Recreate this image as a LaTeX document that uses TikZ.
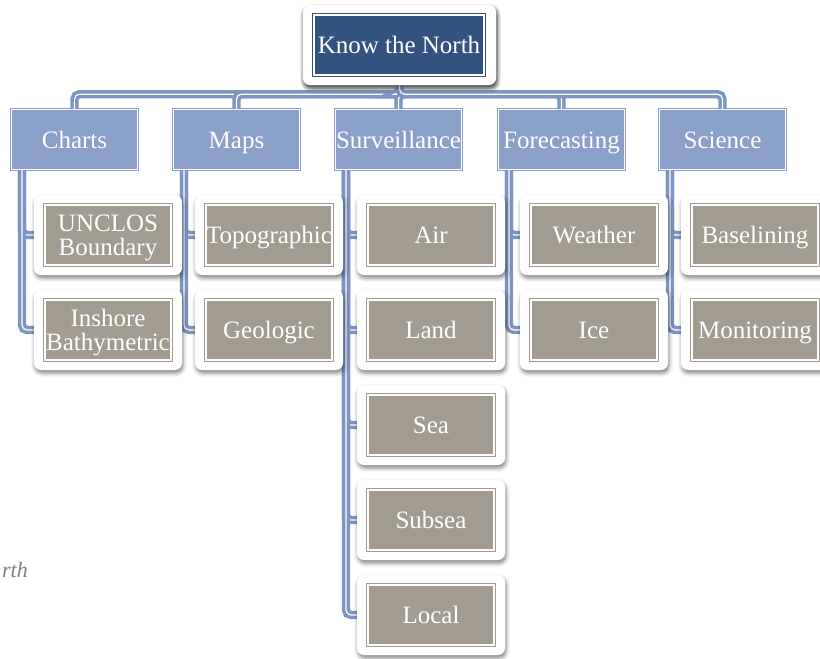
\documentclass[tikz,border=0pt]{standalone}
\usepackage{fontspec}
\setmainfont{Liberation Serif}
\usetikzlibrary{shadows.blur}
\definecolor{topblue}{HTML}{34527F}
\definecolor{lvlblue}{HTML}{8AA0C9}
\definecolor{leafgray}{HTML}{A29C90}
\definecolor{connblue}{HTML}{7D95C3}
\definecolor{notegray}{HTML}{7F7F7F}
\begin{document}
\begin{tikzpicture}[x=1pt,y=-1pt,
  card/.style={rectangle, rounded corners=7pt, fill=white,
    blur shadow={shadow xshift=1pt, shadow yshift=-3pt, shadow blur radius=4pt, shadow opacity=50},
    minimum width=148pt, minimum height=80pt, inner sep=0pt},
  topcard/.style={card, minimum width=193pt, minimum height=80pt},
  topbox/.style={rectangle, fill=topblue, draw=topblue, double=white, double distance=1.6pt,
    line width=1.4pt, minimum width=170pt, minimum height=60pt, inner sep=0pt,
    text height=16pt, text depth=0pt,
    text=white, font=\fontsize{25}{25}\selectfont},
  lvl/.style={rectangle, fill=lvlblue, draw=lvlblue, double=white, double distance=1.2pt,
    line width=1pt, minimum width=126pt, minimum height=60pt, inner sep=0pt,
    text height=17pt, text depth=0pt,
    text=white, font=\fontsize{25}{25}\selectfont},
  leafbase/.style={rectangle, fill=leafgray, draw=leafgray, double=white, double distance=1.4pt,
    line width=1.3pt, minimum width=126pt, minimum height=60pt, inner sep=0pt,
    text width=126pt, align=center, text=white, font=\fontsize{25}{24}\selectfont},
  leaf/.style={leafbase, text height=16pt, text depth=0pt},
  leaftwo/.style={leafbase, text height=16pt, text depth=24pt},
  conn/.style={draw=connblue, line width=3.6pt, double=white, double distance=1.2pt, rounded corners=5pt},
]
\useasboundingbox (0,0) rectangle (820,659);

% top card (shadow) first
\node[topcard] (topc) at (399.5,45) {};
% level 1
\node[lvl] (charts) at (74.5,139.5) {Charts};
\node[lvl] (maps) at (236.5,139.5) {Maps};
\node[lvl] (surv) at (398.5,139.5) {Surveillance};
\node[lvl] (fore) at (561.5,139.5) {Forecasting};
\node[lvl] (sci) at (722.5,139.5) {Science};

% leaf positions
\foreach \n/\x/\y in {c1/108/235, c2/108/330, m1/269/235, m2/269/330,
  s1/431/235, s2/431/330, s3/431/425, s4/431/520, s5/431/615,
  f1/594/235, f2/594/330, e1/755/235, e2/755/330}
  \coordinate (\n pos) at (\x,\y);

% connectors (behind the cards)
\foreach \t in {charts,maps,surv,fore,sci}
  \draw[conn] (topc.south) -- ++(0,9) -| (\t.north);

\foreach \t/\a/\b in {charts/c1/c2, maps/m1/m2, fore/f1/f2, sci/e1/e2}{
  \draw[conn] ([xshift=11pt]\t.south west) |- (\a pos);
  \draw[conn] ([xshift=11pt]\t.south west) |- (\b pos);
}
\foreach \a in {s1,s2,s3,s4,s5}
  \draw[conn] ([xshift=11pt]surv.south west) |- (\a pos);

% top node over connectors
\node[topcard] (topc2) at (399.5,45) {};
\node[topbox] (top) at (399,45) {Know the North};

% leaf cards and leaves
\foreach \n/\txt in {m1/Topographic, m2/Geologic,
  s1/Air, s2/Land, s3/Sea, s4/Subsea, s5/Local,
  f1/Weather, f2/Ice, e1/Baselining, e2/Monitoring}{
  \node[card] (\n card) at (\n pos) {};
  \node[leaf] (\n) at (\n pos) {\txt};
}
\foreach \n/\txt in {c1/{UNCLOS\\Boundary}, c2/{Inshore\\Bathymetric}}{
  \node[card] (\n card) at (\n pos) {};
  \node[leaftwo] (\n) at (\n pos) {\txt};
}

% stray document text
\node[anchor=base east, inner sep=0pt, text=notegray,
  font=\fontsize{22}{22}\selectfont\itshape] (note) at (28,577) {rth};
\end{tikzpicture}
\end{document}
